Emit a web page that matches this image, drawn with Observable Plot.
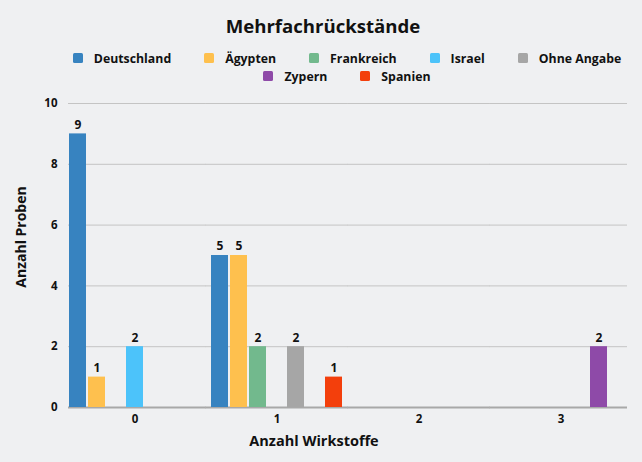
<!DOCTYPE html>
<html><head><meta charset="utf-8">
<script src="https://cdn.jsdelivr.net/npm/d3@7"></script>
<script src="https://cdn.jsdelivr.net/npm/@observablehq/plot@0.6"></script>
<style>
body{margin:0;background:#eff0f2;font-family:"Open Sans",sans-serif;width:642px;height:462px;position:relative;overflow:hidden;color:#111}
#title{position:absolute;left:0;width:646px;top:12px;text-align:center;font-size:18.6px;font-weight:700;line-height:28px}
#legend{position:absolute;left:52px;width:590px;top:49px;display:flex;flex-wrap:wrap;justify-content:center;column-gap:33px}
.item{display:flex;align-items:center;height:18px;font-size:12.3px;font-weight:700}
.sw{width:10px;height:10px;border-radius:1.5px;margin-right:11px}
#chart{position:absolute;left:0;top:90px}
#xlabel{position:absolute;top:431px;left:214px;width:200px;text-align:center;font-size:14.5px;font-weight:700;line-height:19px}
#ylabel{position:absolute;left:20px;top:237px;transform:translate(-50%,-50%) rotate(-90deg);font-size:14px;font-weight:700;white-space:nowrap;line-height:19px}
</style></head>
<body>
<div id="title">Mehrfachrückstände</div>
<div id="legend"></div>
<div id="chart"></div>
<div id="ylabel">Anzahl Proben</div>
<div id="xlabel">Anzahl Wirkstoffe</div>
<script>
const categories = ["0", "1", "2", "3"];
const seriesNames = ["Deutschland", "Ägypten", "Frankreich", "Israel", "Ohne Angabe", "Zypern", "Spanien"];
const colors = ["#3783c0", "#fec04e", "#72b98d", "#4cc3fa", "#a6a6a6", "#8e4aa8", "#f33f0c"];
const deutschland = [9, 5, 0, 0];
const aegypten = [1, 5, 0, 0];
const frankreich = [0, 2, 0, 0];
const israel = [2, 0, 0, 0];
const ohneAngabe = [0, 2, 0, 0];
const zypern = [0, 0, 0, 2];
const spanien = [0, 1, 0, 0];
const seriesValues = [deutschland, aegypten, frankreich, israel, ohneAngabe, zypern, spanien];
const yTicks = [0, 2, 4, 6, 8, 10];

const data = [];
categories.forEach((c, i) => {
  seriesNames.forEach((s, j) => {
    const v = seriesValues[j][i];
    if (v > 0) data.push({cat: c, series: s, value: v});
  });
});

// grid rows per facet so lines can bridge the gaps between groups
const gridRows = [];
categories.forEach(c => yTicks.forEach(t => gridRows.push({cat: c, y: t})));
const first = categories[0], last = categories[categories.length - 1];
const half = -4.75;
function gridMarks(filter, opts) {
  const rows = gridRows.filter(filter);
  return [
    Plot.ruleY(rows.filter(d => d.y > 0), {fx: "cat", y: "y", stroke: "#c4c4c4", strokeWidth: 1, ...opts}),
    Plot.ruleY(rows.filter(d => d.y === 0), {fx: "cat", y: "y", stroke: "#a8a8a8", strokeWidth: 2, ...opts})
  ];
}

const legend = document.getElementById("legend");
seriesNames.forEach((s, j) => {
  const it = document.createElement("div");
  it.className = "item";
  const sw = document.createElement("span");
  sw.className = "sw";
  sw.style.background = colors[j];
  it.appendChild(sw);
  it.appendChild(document.createTextNode(s));
  legend.appendChild(it);
});

const chart = Plot.plot({
  width: 642, height: 372,
  marginTop: 13, marginBottom: 55, marginLeft: 68, marginRight: 15,
  style: {background: "transparent", fontFamily: "Open Sans", fontSize: "11.5px", fontWeight: "700", color: "#111"},
  fx: {domain: categories, paddingInner: 0.0634, paddingOuter: 0, label: null, axis: "bottom", tickSize: 0, tickPadding: 7},
  x: {domain: seriesNames, paddingInner: 0.1, paddingOuter: 0.05, axis: null},
  y: {domain: [0, 10], ticks: 5, label: null, tickSize: 0, tickPadding: 11},
  color: {domain: seriesNames, range: colors},
  marks: [
    ...gridMarks(d => d.cat === first, {insetRight: half}),
    ...gridMarks(d => d.cat !== first && d.cat !== last, {insetLeft: half, insetRight: half}),
    ...gridMarks(d => d.cat === last, {insetLeft: half}),
    Plot.barY(data, {fx: "cat", x: "series", y: "value", fill: "series"}),
    Plot.text(data, {fx: "cat", x: "series", y: "value", text: "value", dy: -9, fontSize: 12, fontWeight: 700, fill: "#111"})
  ]
});
document.getElementById("chart").appendChild(chart);
</script>
</body></html>
